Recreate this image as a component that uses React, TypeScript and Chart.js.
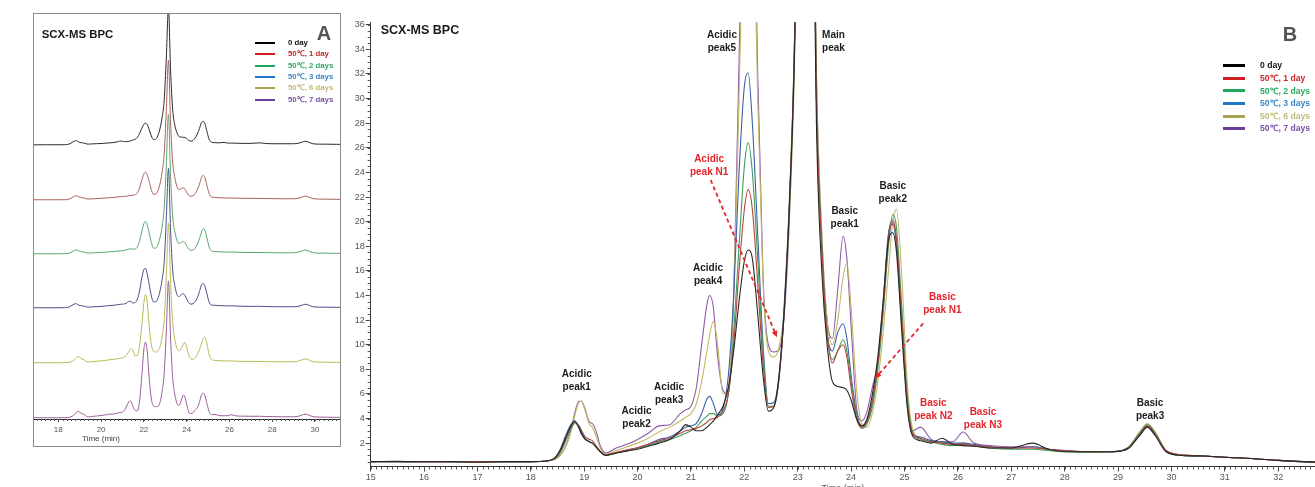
import React, { useEffect, useRef } from 'react';
import { Chart, registerables } from 'chart.js';

Chart.register(...registerables);

const FONT = '"Liberation Sans", Arial, Helvetica, sans-serif';

// ---------------- DATA ----------------
const seriesNames = ['0 day', '50℃, 1 day', '50℃, 2 days', '50℃, 3 days', '50℃, 6 days', '50℃, 7 days'];

// retention time (min)
const retentionTimes = [
  15.0, 15.5, 16.0, 16.5, 17.0, 17.5, 18.0, 18.3, 18.45, 18.55,
  18.65, 18.75, 18.82, 18.9, 18.95, 19.02, 19.1, 19.15, 19.22, 19.3,
  19.4, 19.6, 19.8, 20.0, 20.2, 20.4, 20.6, 20.8, 20.9, 21.0,
  21.1, 21.2, 21.3, 21.35, 21.42, 21.5, 21.6, 21.7, 21.8, 21.9,
  22.0, 22.07, 22.15, 22.25, 22.35, 22.45, 22.55, 22.65, 22.75, 22.85,
  22.95, 23.05, 23.15, 23.25, 23.35, 23.45, 23.55, 23.65, 23.75, 23.85,
  23.92, 24.0, 24.1, 24.2, 24.3, 24.4, 24.5, 24.6, 24.7, 24.78,
  24.85, 24.95, 25.05, 25.15, 25.3, 25.5, 25.7, 25.9, 26.1, 26.3,
  26.6, 27.0, 27.4, 27.7, 28.0, 28.5, 28.9, 29.2, 29.4, 29.55,
  29.7, 29.9, 30.2, 30.6, 31.0, 31.5, 32.0, 32.7,
];

const bpc0Day = [
  0.5, 0.52, 0.48, 0.5, 0.45, 0.5, 0.5, 0.55, 0.8, 1.4,
  2.4, 3.4, 3.8, 3.3, 2.8, 2.3, 2.1, 2.0, 1.7, 1.3,
  1.0, 1.2, 1.35, 1.5, 1.75, 2.0, 2.3, 3.0, 3.5, 3.3,
  3.0, 3.0, 3.3, 3.5, 3.8, 4.3, 5.0, 6.5, 9.5, 13.5,
  16.8, 17.7, 17.0, 12.5, 7.5, 4.6, 4.9, 7.5, 13.0, 22.0,
  36, 70, 110, 60, 28, 16, 10, 7.0, 6.6, 6.5,
  6.3, 5.5, 4.0, 3.4, 4.0, 6.0, 9.0, 13.5, 18.5, 19.1,
  17.5, 11.0, 5.0, 2.6, 2.2, 2.0, 2.4, 1.9, 1.8, 1.75,
  1.6, 1.6, 2.0, 1.5, 1.3, 1.3, 1.3, 1.6, 2.6, 3.3,
  2.6, 1.3, 1.0, 0.95, 0.85, 0.75, 0.6, 0.45,
];

const bpc1Day = [
  0.5, 0.5, 0.5, 0.48, 0.5, 0.5, 0.5, 0.55, 0.75, 1.3,
  2.3, 3.3, 3.7, 3.4, 3.0, 2.5, 2.3, 2.2, 1.8, 1.35,
  1.05, 1.25, 1.45, 1.65, 1.9, 2.2, 2.4, 2.8, 3.0, 3.1,
  3.2, 3.4, 3.7, 3.9, 4.0, 4.1, 4.6, 6.0, 10.0, 16.0,
  21.0, 22.6, 21.0, 15.0, 8.5, 4.9, 5.0, 7.3, 13.0, 22.0,
  37, 72, 112, 62, 30, 18, 11, 8.5, 9.5, 10.0,
  9.0, 6.5, 4.0, 3.3, 3.8, 5.5, 8.5, 13.0, 18.5, 20.0,
  18.5, 12.0, 5.5, 2.8, 2.4, 2.1, 2.0, 1.9, 1.9, 1.8,
  1.7, 1.6, 1.6, 1.5, 1.4, 1.3, 1.3, 1.6, 2.7, 3.4,
  2.7, 1.4, 1.05, 0.95, 0.85, 0.75, 0.6, 0.45,
];

const bpc2Days = [
  0.5, 0.5, 0.5, 0.5, 0.5, 0.5, 0.5, 0.55, 0.7, 1.2,
  2.1, 3.1, 3.6, 3.4, 3.0, 2.4, 2.1, 2.0, 1.7, 1.3,
  1.0, 1.2, 1.4, 1.6, 1.8, 2.1, 2.3, 2.6, 2.8, 3.0,
  3.3, 3.8, 4.2, 4.4, 4.4, 4.2, 4.4, 6.0, 11.0, 18.0,
  24.5, 26.4, 24.0, 17.0, 9.5, 5.0, 5.0, 7.2, 13.0, 22.0,
  37, 72, 112, 62, 30, 18, 11, 8.8, 9.5, 10.4,
  9.5, 7.0, 4.2, 3.2, 3.6, 5.0, 8.0, 12.5, 18.0, 20.6,
  19.5, 13.0, 6.0, 2.9, 2.3, 2.1, 1.9, 1.8, 1.9, 1.8,
  1.6, 1.5, 1.5, 1.4, 1.3, 1.25, 1.3, 1.7, 2.8, 3.5,
  2.8, 1.4, 1.0, 0.95, 0.85, 0.75, 0.6, 0.45,
];

const bpc3Days = [
  0.5, 0.5, 0.5, 0.5, 0.5, 0.5, 0.5, 0.55, 0.8, 1.5,
  2.6, 3.5, 3.8, 3.2, 2.7, 2.3, 2.1, 2.0, 1.7, 1.3,
  1.0, 1.2, 1.4, 1.6, 1.9, 2.3, 2.5, 3.0, 3.3, 3.4,
  3.6, 4.4, 5.6, 5.8, 5.2, 4.3, 4.8, 7.5, 14.0, 24.0,
  31.0, 32.1, 28.0, 19.0, 10.0, 5.2, 5.3, 7.5, 13.5, 22.5,
  37, 72, 112, 62, 30, 18, 11, 9.5, 11.0, 11.7,
  10.5, 7.5, 4.5, 3.4, 3.8, 5.4, 8.5, 13.5, 19.0, 19.8,
  18.0, 11.5, 5.2, 2.7, 2.5, 2.2, 2.1, 2.0, 2.0, 1.9,
  1.7, 1.6, 1.7, 1.5, 1.35, 1.3, 1.3, 1.6, 2.6, 3.3,
  2.6, 1.35, 1.0, 0.95, 0.85, 0.75, 0.6, 0.45,
];

const bpc6Days = [
  0.5, 0.5, 0.5, 0.5, 0.5, 0.5, 0.5, 0.55, 0.7, 1.0,
  1.7, 2.9, 4.2, 5.3, 5.4, 4.6, 3.5, 3.3, 2.6, 1.6,
  1.1, 1.4, 1.7, 2.0, 2.4, 2.9, 3.3, 3.8, 4.1, 4.4,
  5.2, 7.0, 9.5, 10.8, 11.9, 10.0, 6.0, 6.5, 14.0, 30.0,
  48, 55, 50, 30, 15.0, 9.5, 9.0, 9.8, 13.0, 21.0,
  35, 70, 112, 64, 32, 19, 12, 10.0, 12.0, 15.5,
  16.6, 13.0, 6.5, 3.6, 3.3, 4.5, 7.0, 11.0, 16.0, 20.0,
  21.0, 15.5, 7.0, 3.2, 2.4, 2.1, 2.0, 1.9, 2.0, 1.8,
  1.6, 1.6, 1.6, 1.4, 1.35, 1.3, 1.3, 1.7, 2.9, 3.6,
  2.9, 1.4, 1.05, 0.95, 0.85, 0.75, 0.6, 0.45,
];

const bpc7Days = [
  0.5, 0.5, 0.5, 0.5, 0.5, 0.5, 0.5, 0.55, 0.7, 1.0,
  1.7, 3.0, 4.4, 5.4, 5.4, 4.7, 3.7, 3.6, 3.0, 1.8,
  1.2, 1.6, 1.9, 2.3, 2.8, 3.4, 3.5, 4.4, 4.7, 5.0,
  6.5, 10.0, 13.3, 14.0, 13.0, 9.0, 6.3, 6.0, 14.0, 33,
  55, 61, 55, 32, 15.5, 10.0, 9.4, 9.6, 12.5, 21.0,
  36, 70, 110, 64, 32, 19, 12, 10.5, 14.5, 18.8,
  17.0, 11.5, 5.0, 3.8, 4.6, 6.6, 8.5, 13.0, 19.0, 20.2,
  18.5, 12.0, 5.5, 3.0, 3.3, 2.3, 2.1, 2.1, 2.9, 2.0,
  1.8, 1.7, 1.7, 1.5, 1.4, 1.3, 1.3, 1.6, 2.7, 3.4,
  2.7, 1.4, 1.05, 0.95, 0.85, 0.75, 0.6, 0.45,
];

const xTicksB = [15, 16, 17, 18, 19, 20, 21, 22, 23, 24, 25, 26, 27, 28, 29, 30, 31, 32];
const yTicksB = [2, 4, 6, 8, 10, 12, 14, 16, 18, 20, 22, 24, 26, 28, 30, 32, 34, 36];
const xTicksA = [18, 20, 22, 24, 26, 28, 30];

// peak labels (data coordinates of first text line)
const peakNotes = [
  { lines: ['Acidic', 'peak1'], t: 18.86, v: 7.61, red: false },
  { lines: ['Acidic', 'peak2'], t: 19.98, v: 4.6, red: false },
  { lines: ['Acidic', 'peak3'], t: 20.59, v: 6.5, red: false },
  { lines: ['Acidic', 'peak4'], t: 21.32, v: 16.23, red: false },
  { lines: ['Acidic', 'peak5'], t: 21.58, v: 35.17, red: false },
  { lines: ['Main', 'peak'], t: 23.67, v: 35.17, red: false },
  { lines: ['Acidic', 'peak N1'], t: 21.34, v: 25.09, red: true },
  { lines: ['Basic', 'peak1'], t: 23.88, v: 20.86, red: false },
  { lines: ['Basic', 'peak2'], t: 24.78, v: 22.84, red: false },
  { lines: ['Basic', 'peak N1'], t: 25.71, v: 13.89, red: true },
  { lines: ['Basic', 'peak N2'], t: 25.54, v: 5.23, red: true },
  { lines: ['Basic', 'peak N3'], t: 26.47, v: 4.54, red: true },
  { lines: ['Basic', 'peak3'], t: 29.6, v: 5.23, red: false },
];
const peakArrows = [
  { from: [21.37, 23.38], to: [22.61, 10.61] },
  { from: [25.35, 11.73], to: [24.45, 7.26] },
];

// ---------------- STYLES ----------------
const lineColorsB = ['#262626', '#b5453f', '#3f9c5c', '#3d5fa6', '#c2b964', '#8d5aa6'];
const lineColorsA = ['#2a2a2a', '#a8605c', '#5aa46e', '#4a4c88', '#b9b955', '#9c5c9c'];
const legendSwatch = ['#000000', '#d01c24', '#1ea65a', '#1f78c8', '#aaa452', '#6b3d9a'];
const legendText = ['#111111', '#c8282e', '#2aa862', '#3a86c8', '#c2ba78', '#7a52a8'];
const panelAStackOffsets = [218.4, 174.4, 131.2, 88, 44, 0];
const NOTE_BLACK = '#1c1c1c';
const NOTE_RED = '#e4262c';

const minorTicksPlugin = {
  id: 'minorTicks',
  afterDraw(chart: any, _args: any, opts: any) {
    const { ctx, chartArea } = chart;
    const xs = chart.scales.x;
    const ys = chart.scales.y;
    ctx.save();
    ctx.strokeStyle = opts.color || '#555';
    ctx.lineWidth = 1;
    ctx.beginPath();
    if (opts.xStep) {
      const n0 = Math.ceil(xs.min / opts.xStep - 1e-6);
      const n1 = Math.floor(xs.max / opts.xStep + 1e-6);
      for (let n = n0; n <= n1; n++) {
        const p = Math.round(xs.getPixelForValue(n * opts.xStep)) + 0.5;
        ctx.moveTo(p, chartArea.bottom);
        ctx.lineTo(p, chartArea.bottom + opts.xLen);
      }
    }
    if (opts.yStep) {
      const n0 = Math.ceil(ys.min / opts.yStep - 1e-6);
      const n1 = Math.floor(ys.max / opts.yStep + 1e-6);
      for (let n = n0; n <= n1; n++) {
        const p = Math.round(ys.getPixelForValue(n * opts.yStep)) + 0.5;
        ctx.moveTo(chartArea.left - opts.yLen, p);
        ctx.lineTo(chartArea.left, p);
      }
    }
    ctx.stroke();
    ctx.restore();
  },
};

const peakNotesPlugin = {
  id: 'peakNotes',
  afterDatasetsDraw(chart: any, _args: any, opts: any) {
    const notes = (opts && opts.notes) || [];
    const arrows = (opts && opts.arrows) || [];
    if (!notes.length && !arrows.length) return;
    const { ctx } = chart;
    const x = chart.scales.x;
    const y = chart.scales.y;
    ctx.save();
    for (const a of arrows) {
      const x1 = x.getPixelForValue(a.from[0]);
      const y1 = y.getPixelForValue(a.from[1]);
      const x2 = x.getPixelForValue(a.to[0]);
      const y2 = y.getPixelForValue(a.to[1]);
      const ang = Math.atan2(y2 - y1, x2 - x1);
      const head = 7;
      ctx.strokeStyle = NOTE_RED;
      ctx.lineWidth = 1.8;
      ctx.setLineDash([4, 3]);
      ctx.beginPath();
      ctx.moveTo(x1, y1);
      ctx.lineTo(x2 - Math.cos(ang) * head * 0.7, y2 - Math.sin(ang) * head * 0.7);
      ctx.stroke();
      ctx.setLineDash([]);
      ctx.fillStyle = NOTE_RED;
      ctx.beginPath();
      ctx.moveTo(x2, y2);
      ctx.lineTo(x2 - head * Math.cos(ang - 0.45), y2 - head * Math.sin(ang - 0.45));
      ctx.lineTo(x2 - head * Math.cos(ang + 0.45), y2 - head * Math.sin(ang + 0.45));
      ctx.closePath();
      ctx.fill();
    }
    ctx.font = `bold 10px ${FONT}`;
    ctx.textAlign = 'center';
    ctx.textBaseline = 'middle';
    for (const n of notes) {
      const px = x.getPixelForValue(n.t);
      const py = y.getPixelForValue(n.v);
      ctx.fillStyle = n.red ? NOTE_RED : NOTE_BLACK;
      n.lines.forEach((l: string, i: number) => ctx.fillText(l, px, py + i * 13));
    }
    ctx.restore();
  },
};

const allSeries = [bpc0Day, bpc1Day, bpc2Days, bpc3Days, bpc6Days, bpc7Days];

function Txt(props: any) {
  const { x, cy, size, bold, color, center, children } = props;
  return (
    <div
      style={{
        position: 'absolute',
        left: x,
        top: cy - size / 2,
        fontSize: size,
        lineHeight: `${size}px`,
        fontWeight: bold ? 700 : 400,
        color,
        whiteSpace: 'nowrap',
        fontFamily: FONT,
        transform: center ? 'translateX(-50%)' : undefined,
      }}
    >
      {children}
    </div>
  );
}

export default function App() {
  const refA = useRef<HTMLCanvasElement>(null);
  const refB = useRef<HTMLCanvasElement>(null);

  useEffect(() => {
    const tickFont = { family: FONT, size: 9 };
    const chartB = new Chart(refB.current as HTMLCanvasElement, {
      type: 'line',
      data: {
        datasets: allSeries.map((vals, i) => ({
          label: seriesNames[i],
          data: retentionTimes.map((t, j) => ({ x: t, y: vals[j] })),
          borderColor: lineColorsB[i],
          borderWidth: 1.1,
          pointRadius: 0,
          cubicInterpolationMode: 'monotone',
          fill: false,
        })),
      },
      options: {
        responsive: false,
        animation: false,
        events: [],
        layout: { padding: { top: 22.3, left: 0, right: 0, bottom: 0 } },
        plugins: {
          legend: { display: false },
          tooltip: { enabled: false },
          minorTicks: { xStep: 0.1, xLen: 3, yStep: 0.5, yLen: 3, color: '#555' },
          peakNotes: { notes: peakNotes, arrows: peakArrows },
        },
        scales: {
          x: {
            type: 'linear',
            min: 15,
            max: 32.69,
            afterBuildTicks: (s: any) => { s.ticks = xTicksB.map((v) => ({ value: v })); },
            afterFit: (s: any) => { s.height = 33.5; },
            grid: { display: true, drawOnChartArea: false, drawTicks: true, tickLength: 5, color: '#444' },
            border: { display: true, color: '#333', width: 1 },
            ticks: { font: tickFont, color: '#555', padding: 1, maxRotation: 0, autoSkip: false },
            title: { display: true, text: 'Time (min)', font: tickFont, color: '#555', padding: { top: 0, bottom: 5.6 } },
          },
          y: {
            type: 'linear',
            min: 0.1,
            max: 36.2,
            afterBuildTicks: (s: any) => { s.ticks = yTicksB.map((v) => ({ value: v })); },
            afterFit: (s: any) => { s.width = 30.7; },
            grid: { display: true, drawOnChartArea: false, drawTicks: true, tickLength: 5, color: '#444' },
            border: { display: true, color: '#333', width: 1 },
            ticks: { font: tickFont, color: '#555', padding: 1, autoSkip: false },
          },
        },
      } as any,
      plugins: [minorTicksPlugin, peakNotesPlugin] as any,
    });

    const chartA = new Chart(refA.current as HTMLCanvasElement, {
      type: 'line',
      data: {
        datasets: allSeries.map((vals, i) => ({
          label: seriesNames[i],
          data: retentionTimes.map((t, j) => ({ x: t, y: vals[j] + panelAStackOffsets[i] })),
          borderColor: lineColorsA[i],
          borderWidth: 1,
          pointRadius: 0,
          cubicInterpolationMode: 'monotone',
          fill: false,
        })),
      },
      options: {
        responsive: false,
        animation: false,
        events: [],
        layout: { padding: 0 },
        plugins: {
          legend: { display: false },
          tooltip: { enabled: false },
          minorTicks: { xStep: 0.2, xLen: 2, color: '#555' },
        },
        scales: {
          x: {
            type: 'linear',
            min: 16.864,
            max: 31.17,
            afterBuildTicks: (s: any) => { s.ticks = xTicksA.map((v) => ({ value: v })); },
            afterFit: (s: any) => { s.height = 27; },
            grid: { display: true, drawOnChartArea: false, drawTicks: true, tickLength: 3, color: '#444' },
            border: { display: true, color: '#333', width: 1 },
            ticks: { font: { family: FONT, size: 8 }, color: '#555', padding: 3, maxRotation: 0, autoSkip: false },
          },
          y: { type: 'linear', display: false, min: -0.5, max: 323.5 },
        },
      } as any,
      plugins: [minorTicksPlugin] as any,
    });

    return () => {
      chartA.destroy();
      chartB.destroy();
    };
  }, []);

  return (
    <div
      style={{
        position: 'fixed',
        left: 0,
        top: 0,
        width: 1315,
        height: 487,
        overflow: 'hidden',
        background: '#ffffff',
        fontFamily: FONT,
      }}
    >
      {/* Panel A frame */}
      <div
        style={{
          position: 'absolute',
          left: 33,
          top: 13,
          width: 308,
          height: 434,
          border: '1px solid #8a8a8a',
          boxSizing: 'border-box',
        }}
      />
      <canvas ref={refA} width={306} height={432} style={{ position: 'absolute', left: 34, top: 14 }} />
      <Txt x={41.7} cy={34.7} size={11.4} bold color="#1a1a1a">SCX-MS BPC</Txt>
      <Txt x={324} cy={33} size={20} bold color="#555" center>A</Txt>
      <Txt x={101} cy={439} size={8} color="#444" center>Time (min)</Txt>
      {seriesNames.map((name, i) => (
        <React.Fragment key={'la' + i}>
          <div style={{ position: 'absolute', left: 255, top: 42.7 + i * 11.4 - 1, width: 20, height: 2, background: legendSwatch[i] }} />
          <Txt x={288} cy={42.7 + i * 11.4} size={7.8} bold color={legendText[i]}>{name}</Txt>
        </React.Fragment>
      ))}

      {/* Panel B */}
      <canvas ref={refB} width={975} height={500} style={{ position: 'absolute', left: 340, top: 0 }} />
      <Txt x={380.7} cy={30.5} size={12.5} bold color="#1a1a1a">SCX-MS BPC</Txt>
      <Txt x={1290} cy={33.5} size={20} bold color="#555" center>B</Txt>
      {seriesNames.map((name, i) => (
        <React.Fragment key={'lb' + i}>
          <div style={{ position: 'absolute', left: 1223, top: 65.7 + i * 12.6 - 1.5, width: 22, height: 3, background: legendSwatch[i] }} />
          <Txt x={1260} cy={65.7 + i * 12.6} size={8.6} bold color={legendText[i]}>{name}</Txt>
        </React.Fragment>
      ))}
    </div>
  );
}
